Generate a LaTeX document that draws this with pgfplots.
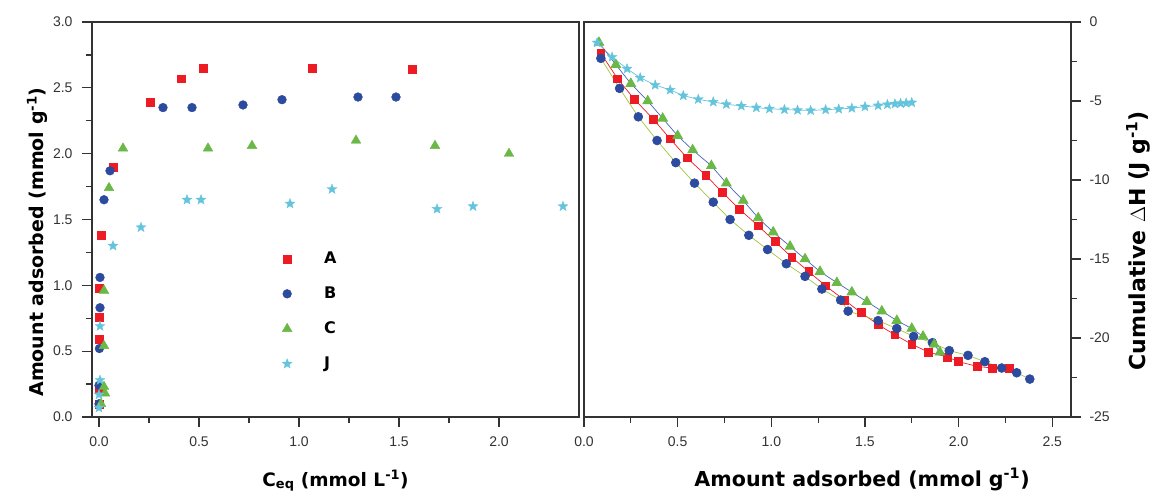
\documentclass[border=0pt]{standalone}
\usepackage{pgfplots}
\pgfplotsset{compat=1.18}
\usepackage{fontspec}
\setmainfont{Liberation Sans}
\newfontfamily\lblfont{DejaVu Sans}
\definecolor{cA}{HTML}{ED1C24}
\definecolor{cB}{HTML}{2C4A9E}
\definecolor{cC}{HTML}{6AB845}
\definecolor{cJ}{HTML}{64C4DC}
\definecolor{lB}{HTML}{A3C43C}
\definecolor{lC}{HTML}{4A64B8}
\definecolor{axc}{HTML}{333333}
\pgfdeclareplotmark{fstar}{%
  \pgfpathmoveto{\pgfpointpolar{90}{\pgfplotmarksize}}%
  \pgfpathlineto{\pgfpointpolar{126}{0.42\pgfplotmarksize}}%
  \pgfpathlineto{\pgfpointpolar{162}{\pgfplotmarksize}}%
  \pgfpathlineto{\pgfpointpolar{198}{0.42\pgfplotmarksize}}%
  \pgfpathlineto{\pgfpointpolar{234}{\pgfplotmarksize}}%
  \pgfpathlineto{\pgfpointpolar{270}{0.42\pgfplotmarksize}}%
  \pgfpathlineto{\pgfpointpolar{306}{\pgfplotmarksize}}%
  \pgfpathlineto{\pgfpointpolar{342}{0.42\pgfplotmarksize}}%
  \pgfpathlineto{\pgfpointpolar{18}{\pgfplotmarksize}}%
  \pgfpathlineto{\pgfpointpolar{54}{0.42\pgfplotmarksize}}%
  \pgfpathclose\pgfusepathqfillstroke}
\pgfplotsset{
  myax/.style={
    scale only axis, width=487pt, height=395pt,
    axis line style={line width=1.5pt, color=axc},
    every tick/.style={line width=1.2pt, color=axc},
    major tick length=10pt, minor tick length=6pt,
    tick align=outside,
    xtick pos=left,
    tick label style={font=\fontsize{14}{14}\selectfont, color=axc},
    /pgf/number format/assume math mode=true,
    minor x tick num=1, minor y tick num=1,
  },
  mA/.style={mark=square*, mark size=3.9pt, color=cA, mark options={fill=cA, draw=cA}},
  mB/.style={mark=*, mark size=4.4pt, color=cB, mark options={fill=cB, draw=cB}},
  mC/.style={mark=triangle*, mark size=5.6pt, color=cC, mark options={fill=cC, draw=cC}},
  mJ/.style={mark=fstar, mark size=5.2pt, color=cJ, mark options={fill=cJ, draw=cJ, line width=0.3pt}},
}
\begin{document}
\begin{tikzpicture}
\path[use as bounding box] (0pt,0pt) rectangle (1152pt,498pt);
\begin{axis}[myax, at={(92pt,81pt)}, anchor=south west,
  xmin=-0.035, xmax=2.4, ymin=0, ymax=3,
  xtick={0,0.5,1,1.5,2}, ytick={0,0.5,...,3},
  ytick pos=left,
  xticklabel style={yshift=-6pt, /pgf/number format/.cd, fixed, fixed zerofill, precision=1},
  yticklabel style={xshift=-6pt, /pgf/number format/.cd, fixed, fixed zerofill, precision=1},
  xlabel={\lblfont\bfseries\fontsize{18.5}{20}\selectfont C\textsubscript{eq} (mmol L\textsuperscript{-1})},
  ylabel={\lblfont\bfseries\fontsize{19}{20}\selectfont Amount adsorbed (mmol g\textsuperscript{-1})},
  every axis x label/.style={at={(axis description cs:0.5,-0.175)}, anchor=base},
  every axis y label/.style={at={(axis description cs:-0.1006,0.443)}, rotate=90, anchor=base},
  legend style={at={(axis description cs:0.384,0.425)}, anchor=north west, draw=none, fill=none,
    font=\lblfont\bfseries\fontsize{16}{16}\selectfont, column sep=30pt, row sep=20pt,
    nodes={text height=12pt, text depth=3pt, inner ysep=0pt}},
  legend cell align=left,
  legend image code/.code={\draw[#1] plot coordinates {(0pt,0pt)};},
]
\addplot[only marks, mA] coordinates {(0,0.10)(0,0.22)(0,0.59)(0,0.76)(0,0.98)(0.01,1.38)(0.07,1.90)(0.255,2.39)(0.41,2.57)(0.52,2.65)(1.065,2.65)(1.565,2.64)};
\addlegendentry{A}
\addplot[only marks, mB] coordinates {(0,0.10)(0,0.24)(0.002,0.52)(0.005,0.83)(0.005,1.06)(0.025,1.65)(0.055,1.87)(0.32,2.35)(0.465,2.35)(0.72,2.37)(0.915,2.41)(1.295,2.43)(1.485,2.43)};
\addlegendentry{B}
\addplot[only marks, mC] coordinates {(0.01,0.10)(0.03,0.18)(0.025,0.23)(0.025,0.54)(0.025,0.96)(0.05,1.74)(0.12,2.04)(0.545,2.04)(0.765,2.06)(1.285,2.10)(1.68,2.06)(2.05,2.00)};
\addlegendentry{C}
\addplot[only marks, mJ] coordinates {(0,0.07)(0,0.17)(0.005,0.28)(0.005,0.69)(0.07,1.30)(0.21,1.44)(0.44,1.65)(0.51,1.65)(0.955,1.62)(1.165,1.73)(1.69,1.58)(1.87,1.60)(2.32,1.60)};
\addlegendentry{J}
\end{axis}
\begin{axis}[myax, at={(584pt,81pt)}, anchor=south west,
  xmin=0, xmax=2.6, ymin=-25, ymax=0,
  xtick={0,0.5,1,1.5,2,2.5}, ytick={-25,-20,...,0},
  ytick pos=right, yticklabel pos=right,
  xticklabel style={yshift=-6pt, /pgf/number format/.cd, fixed, fixed zerofill, precision=1},
  yticklabel style={xshift=5pt},
  xlabel={\lblfont\bfseries\fontsize{20.6}{22}\selectfont Amount adsorbed (mmol g\textsuperscript{-1})},
  ylabel={\lblfont\bfseries\fontsize{22}{24}\selectfont Cumulative $\Delta$H (J g\textsuperscript{-1})},
  every axis x label/.style={at={(axis description cs:0.571,-0.175)}, anchor=base},
  every axis y label/.style={at={(axis description cs:1.152,0.446)}, rotate=90, anchor=base},
]
\addplot[color=cA, line width=0.7pt, mA, mark options={fill=cA, draw=cA}] coordinates {(0.09,-1.98)(0.18,-3.6)(0.27,-4.9)(0.37,-6.15)(0.46,-7.4)(0.55,-8.6)(0.65,-9.7)(0.74,-10.8)(0.83,-11.85)(0.93,-12.9)(1.02,-13.9)(1.11,-14.9)(1.20,-15.8)(1.29,-16.7)(1.39,-17.6)(1.48,-18.4)(1.57,-19.15)(1.66,-19.8)(1.75,-20.4)(1.84,-20.9)(1.94,-21.2)(2.00,-21.5)(2.10,-21.8)(2.18,-21.9)(2.27,-21.9)};
\addplot[mB, color=lB, line width=0.7pt, mark options={fill=cB, draw=cB}] coordinates {(0.09,-2.3)(0.19,-4.2)(0.29,-6.0)(0.39,-7.5)(0.49,-8.9)(0.59,-10.2)(0.69,-11.4)(0.78,-12.5)(0.88,-13.5)(0.98,-14.4)(1.08,-15.3)(1.18,-16.1)(1.27,-16.9)(1.37,-17.6)(1.41,-18.3)(1.57,-18.9)(1.67,-19.4)(1.76,-19.9)(1.86,-20.3)(1.95,-20.8)(2.05,-21.1)(2.14,-21.5)(2.23,-21.9)(2.31,-22.2)(2.38,-22.6)};
\addplot[mC, color=lC, line width=0.7pt, mark options={fill=cC, draw=cC}] coordinates {(0.08,-1.3)(0.17,-2.7)(0.25,-3.9)(0.34,-5.0)(0.42,-6.1)(0.50,-7.2)(0.58,-8.1)(0.68,-9.1)(0.76,-10.2)(0.85,-11.3)(0.93,-12.4)(1.01,-13.3)(1.10,-14.2)(1.18,-15.0)(1.26,-15.8)(1.35,-16.5)(1.43,-17.1)(1.51,-17.7)(1.59,-18.3)(1.67,-18.9)(1.75,-19.4)(1.81,-19.9)(1.87,-20.4)(1.90,-20.9)};
\addplot[mJ, color=cJ, line width=0.7pt, mark options={fill=cJ, draw=cJ, line width=0.3pt}] coordinates {(0.07,-1.31)(0.15,-2.22)(0.23,-2.96)(0.30,-3.53)(0.38,-3.99)(0.46,-4.30)(0.53,-4.66)(0.61,-4.89)(0.69,-5.06)(0.76,-5.21)(0.84,-5.31)(0.92,-5.42)(0.99,-5.49)(1.07,-5.54)(1.14,-5.58)(1.21,-5.60)(1.29,-5.55)(1.36,-5.51)(1.43,-5.45)(1.50,-5.36)(1.57,-5.29)(1.62,-5.22)(1.66,-5.18)(1.69,-5.15)(1.72,-5.13)(1.75,-5.10)};
\end{axis}
\end{tikzpicture}
\end{document}
